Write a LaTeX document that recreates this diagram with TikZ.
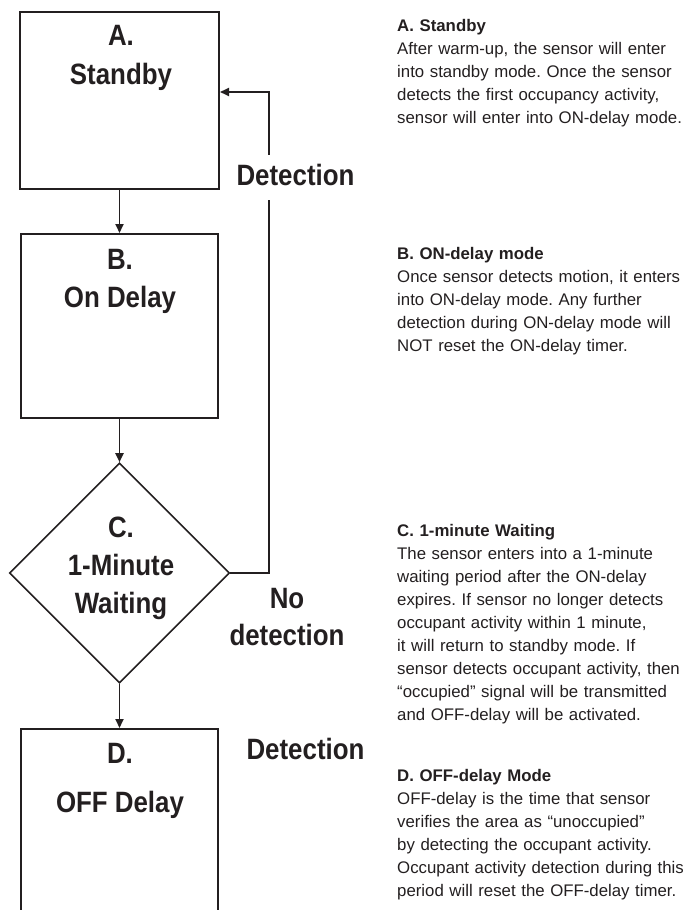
\documentclass[tikz,border=0pt]{standalone}
\usepackage{fontspec}
\setmainfont{Liberation Sans}
\newfontfamily\labelfont[FakeStretch=0.88]{Liberation Sans Bold}
\usetikzlibrary{shapes.geometric,arrows.meta}
\definecolor{ink}{RGB}{35,31,32}
\tikzset{
  statebox/.style={draw=ink,line width=2pt,inner sep=0pt},
  decisionbox/.style={draw=ink,line width=1.6pt,diamond,inner sep=0pt,minimum width=220pt,minimum height=220pt},
  biglabel/.style={text=ink,inner sep=0pt,anchor=base,font=\labelfont\fontsize{29.4}{34}\selectfont},
  flow/.style={draw=ink,line width=1.9pt,-{Triangle[length=9pt,width=8pt]}},
  desc/.style={text=ink,inner sep=0pt,anchor=base west,text width=292pt,align=left,font=\frenchspacing\fontsize{16.8}{23}\selectfont}
}
\begin{document}
\begin{tikzpicture}[x=1pt,y=-1pt]
\useasboundingbox (0,0) rectangle (692,910);
\clip (0,0) rectangle (692,910);
% state boxes
\node[statebox,minimum width=199pt,minimum height=177pt] (A) at (119.5,100.5) {};
\node[statebox,minimum width=197pt,minimum height=184pt] (B) at (119.5,326) {};
\node[decisionbox] (C) at (119.5,573) {};
\node[statebox,minimum width=197pt,minimum height=200pt] (D) at (119.5,829) {};
% box labels
\node[biglabel] (Aa) at (121,45) {A.};
\node[biglabel] (Ab) at (121,84) {Standby};
\node[biglabel] (Ba) at (120,269) {B.};
\node[biglabel] (Bb) at (120,307) {On Delay};
\node[biglabel] (Ca) at (121,537) {C.};
\node[biglabel] (Cb) at (121,575) {1-Minute};
\node[biglabel] (Cc) at (121,613) {Waiting};
\node[biglabel] (Da) at (120,763) {D.};
\node[biglabel] (Db) at (120,812) {OFF Delay};
% connectors
\draw[flow] (A.south) -- (B.north);
\draw[flow] (B.south) -- (C.north);
\draw[flow] (C.south) -- (D.north);
\coordinate (fbtop) at (269,92);
\draw[flow] (C.east) -| (fbtop) -- (A.east |- fbtop);
% connector labels
\node[biglabel,fill=white,text height=30pt,text depth=15pt] (det1) at (295.5,185) {Detection};
\node[biglabel] (no) at (287,608) {No};
\node[biglabel] (nodet) at (287,645) {detection};
\node[biglabel] (det2) at (305.5,759) {Detection};
% descriptions
\node[desc] (tA) at (397,31) {\textbf{A. Standby}\\
After warm-up, the sensor will enter\\
into standby mode. Once the sensor\\
detects the first occupancy activity,\\
sensor will enter into ON-delay mode.};
\node[desc] (tB) at (397,259) {\textbf{B. ON-delay mode}\\
Once sensor detects motion, it enters\\
into ON-delay mode. Any further\\
detection during ON-delay mode will\\
NOT reset the ON-delay timer.};
\node[desc] (tC) at (397,536) {\textbf{C. 1-minute Waiting}\\
The sensor enters into a 1-minute\\
waiting period after the ON-delay\\
expires. If sensor no longer detects\\
occupant activity within 1 minute,\\
it will return to standby mode. If\\
sensor detects occupant activity, then\\
“occupied” signal will be transmitted\\
and OFF-delay will be activated.};
\node[desc] (tD) at (397,781) {\textbf{D. OFF-delay Mode}\\
OFF-delay is the time that sensor\\
verifies the area as “unoccupied”\\
by detecting the occupant activity.\\
Occupant activity detection during this\\
period will reset the OFF-delay timer.};
\end{tikzpicture}
\end{document}
